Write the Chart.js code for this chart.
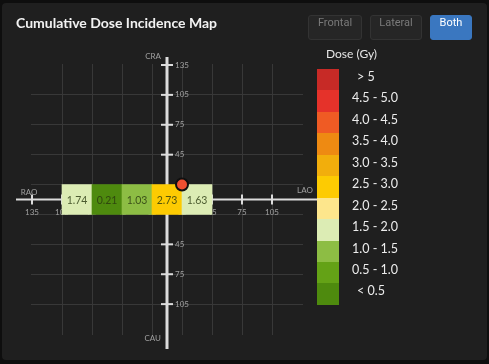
<!DOCTYPE html>
<html>
<head>
<meta charset="utf-8">
<script src="https://cdn.jsdelivr.net/npm/chart.js@4/dist/chart.umd.min.js"></script>
<style>
  body { margin: 0; background: #0e0e0e; width: 489px; height: 364px; overflow: hidden; position: relative; font-family: Lato, sans-serif; }
  #panel { position: absolute; left: 2px; top: 3px; width: 485px; height: 357px; background: #1f1f1f; border-radius: 4px; }
  #cnvDoseMap { position: absolute; left: 0; top: 0; }
  #title { position: absolute; left: 16px; top: 14px; color: #f2f2f2; font: bold 14px Lato, sans-serif; }
  .btn { position: absolute; top: 15px; height: 25px; line-height: 25px; text-align: center; font: 11px Roboto, sans-serif; border-radius: 3px; box-sizing: border-box; }
  .btnOff { background: #262626; border: 1px solid #333; color: #7a7a7a; }
  .btnOn { background: #3a77c0; border: 1px solid #3a77c0; color: #fff; }
  #legendTitle { position: absolute; left: 326px; top: 46px; color: #e6e6e6; font: 12px Lato, sans-serif; }
  #legend { position: absolute; left: 317px; top: 69px; }
  .row { position: relative; height: 21.45px; }
  .swatch { position: absolute; left: 0; top: 0; width: 22px; height: 21.45px; }
  .lbl { position: absolute; left: 35px; top: 0; line-height: 21.45px; color: #ececec; font: 12.5px Lato, sans-serif; white-space: nowrap; }
</style>
</head>
<body>
<div id="panel"></div>
<canvas id="cnvDoseMap" width="489" height="364"></canvas>
<div id="title">Cumulative Dose Incidence Map</div>
<div class="btn btnOff" style="left:308px;width:54px;">Frontal</div>
<div class="btn btnOff" style="left:370px;width:52px;">Lateral</div>
<div class="btn btnOn" style="left:430px;width:42px;">Both</div>
<div id="legendTitle">Dose (Gy)</div>
<div id="legend"></div>
<script>
/**
 * DATA
 */
// cell centres (degrees) and cumulative dose in each cell
const cellAngleX = [-90, -60, -30, 0, 30];
const cellAngleY = [0, 0, 0, 0, 0];
const cellDose = [1.74, 0.21, 1.03, 2.73, 1.63];
const cellHalf = 15;

// current gantry position marker
const markerX = [15];
const markerY = [15];

// dose bins for the colour scale, top to bottom
const doseLabels = ['> 5', '4.5 - 5.0', '4.0 - 4.5', '3.5 - 4.0', '3.0 - 3.5', '2.5 - 3.0',
                    '2.0 - 2.5', '1.5 - 2.0', '1.0 - 1.5', '0.5 - 1.0', '< 0.5'];
const doseLower = [5, 4.5, 4.0, 3.5, 3.0, 2.5, 2.0, 1.5, 1.0, 0.5, 0];
const doseColors = ['#c72a26', '#e5322a', '#ef5b24', '#ee8a12', '#f2ae0c', '#fdcb02',
                    '#fde68c', '#dcecb4', '#8dbd44', '#64a216', '#4e8a0e'];

// tick positions
const gridTicks = [-105, -75, -45, -15, 15, 45, 75, 105];
const xLabelTicks = [-135, -105, -75, -45, -15, 15, 45, 75, 105];
const yLabelTicks = [135, 105, 75, 45, -45, -75, -105];

/**
 * FUNCTIONS
 */

/**
 * picks the bin colour for a dose
 */
function DoseColor(dose) {
    for (let i = 0; i < doseLower.length; i++) {
        if (dose >= doseLower[i]) return doseColors[i];
    }
    return doseColors[doseColors.length - 1];
}

/**
 * builds the colour scale legend
 */
function FillLegend() {
    let legend = document.querySelector('#legend');
    let html = '';
    for (let i = 0; i < doseLabels.length; i++) {
        let pad = doseLabels[i].length < 6 ? 'padding-left:5px;' : '';
        html += `<div class="row"><div class="swatch" style="background:${doseColors[i]}"></div>`;
        html += `<div class="lbl" style="${pad}">${doseLabels[i]}</div></div>`;
    }
    legend.innerHTML = html;
}

// draws the cross axes, tick marks and angle labels at the centre of the map
const crossAxes = {
    id: 'crossAxes',
    beforeDatasetsDraw(chart) {
        const ctx = chart.ctx;
        const sx = chart.scales.x, sy = chart.scales.y;
        const cx = sx.getPixelForValue(0), cy = sy.getPixelForValue(0);
        ctx.save();
        ctx.strokeStyle = '#dcdcdc';
        // main axes
        ctx.lineWidth = 3;
        ctx.beginPath();
        ctx.moveTo(cx, sy.getPixelForValue(143));
        ctx.lineTo(cx, sy.getPixelForValue(-150));
        ctx.stroke();
        ctx.lineWidth = 2;
        ctx.beginPath();
        ctx.moveTo(sx.getPixelForValue(-151), cy);
        ctx.lineTo(sx.getPixelForValue(150), cy);
        ctx.stroke();
        // tick marks
        ctx.lineWidth = 2;
        yLabelTicks.forEach(v => {
            let py = sy.getPixelForValue(v);
            ctx.beginPath(); ctx.moveTo(cx - 6, py); ctx.lineTo(cx + 6, py); ctx.stroke();
        });
        xLabelTicks.forEach(v => {
            let px = sx.getPixelForValue(v);
            ctx.beginPath(); ctx.moveTo(px, cy - 5); ctx.lineTo(px, cy + 5); ctx.stroke();
        });
        // tick labels
        ctx.fillStyle = '#a0a0a0';
        ctx.font = '8px Lato, sans-serif';
        ctx.textAlign = 'left';
        ctx.textBaseline = 'middle';
        yLabelTicks.forEach(v => ctx.fillText(Math.abs(v), cx + 8, sy.getPixelForValue(v)));
        ctx.textAlign = 'center';
        xLabelTicks.forEach(v => ctx.fillText(Math.abs(v), sx.getPixelForValue(v), cy + 13));
        // direction names
        ctx.textAlign = 'right';
        ctx.fillText('CRA', cx - 6, sy.getPixelForValue(144));
        ctx.fillText('CAU', cx - 6, sy.getPixelForValue(-139));
        ctx.textAlign = 'center';
        ctx.fillText('RAO', sx.getPixelForValue(-138), cy - 7);
        ctx.fillText('LAO', sx.getPixelForValue(138), cy - 9);
        ctx.restore();
    }
};

// writes the dose value in each cell
const cellValues = {
    id: 'cellValues',
    afterDatasetDraw(chart, args) {
        if (args.meta.type !== 'bar') return;
        const ctx = chart.ctx;
        ctx.save();
        ctx.font = '10.5px Lato, sans-serif';
        ctx.textAlign = 'center';
        ctx.textBaseline = 'middle';
        ctx.fillStyle = 'rgba(40,55,15,0.8)';
        args.meta.data.forEach((bar, i) => {
            ctx.fillText(cellDose[i].toFixed(2), bar.x, (bar.y + bar.base) / 2 + 1);
        });
        ctx.restore();
    }
};

function PaintMap() {
    let canvas = document.querySelector('#cnvDoseMap');
    let cells = cellAngleX.map((x, i) => ({ x: x, y: [cellAngleY[i] - cellHalf, cellAngleY[i] + cellHalf] }));
    let marker = markerX.map((x, i) => ({ x: x, y: markerY[i] }));

    let gridScale = () => ({
        type: 'linear',
        min: -136,
        max: 136,
        offset: false,
        afterBuildTicks: s => { s.ticks = gridTicks.map(v => ({ value: v })); },
        ticks: { display: false },
        grid: { color: '#383838', lineWidth: 1, drawTicks: false, offset: false },
        border: { display: false }
    });

    new Chart(canvas, {
        type: 'bar',
        data: {
            datasets: [{
                type: 'bar',
                data: cells,
                backgroundColor: cellDose.map(DoseColor),
                borderWidth: 0,
                barPercentage: 1,
                categoryPercentage: 1,
                order: 1
            }, {
                type: 'scatter',
                data: marker,
                pointRadius: 6,
                pointBackgroundColor: '#ee5030',
                pointBorderColor: '#101010',
                pointBorderWidth: 2,
                order: 0
            }]
        },
        options: {
            responsive: false,
            animation: false,
            layout: { padding: { left: 31, right: 186, top: 64, bottom: 29 } },
            plugins: { legend: { display: false }, tooltip: { enabled: false } },
            scales: { x: gridScale(), y: gridScale() }
        },
        plugins: [crossAxes, cellValues]
    });
}

FillLegend();
PaintMap();
</script>
</body>
</html>
